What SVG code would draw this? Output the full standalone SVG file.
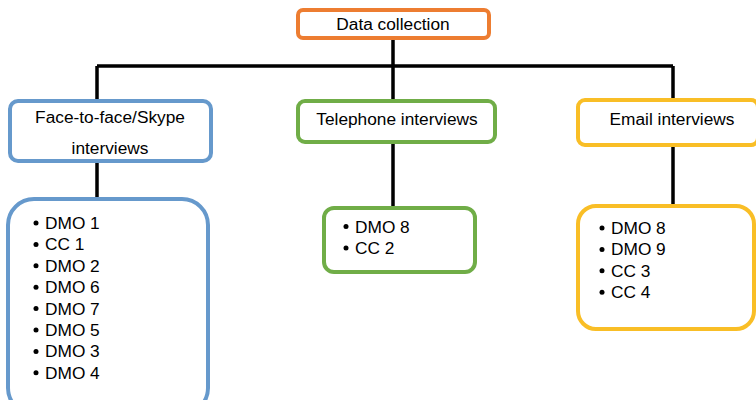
<svg xmlns="http://www.w3.org/2000/svg" width="756" height="400" viewBox="0 0 756 400">
<style>
text{font-family:"Liberation Sans",Arial,sans-serif;font-size:17.3px;fill:#000}
.c{text-anchor:middle}
.box{fill:#fff;stroke-width:4}
.line{stroke:#000;stroke-width:3.5;fill:none}
.o{stroke:#ED7D31}.b{stroke:#6699CC}.g{stroke:#70AD47}.y{stroke:#F9BE26}
</style>
<rect width="756" height="400" fill="#fff"/>
<g id="connectors">
<path class="line" d="M393 38V66M97 66H673M97 66V100M393 66V101M673 66V100"/>
<path class="line" d="M97 162V199M393 142V208M673 145V205"/>
</g>
<g id="data-collection">
<rect class="box o" x="298" y="10" width="191" height="28" rx="5"/>
<text class="c" x="393" y="30">Data collection</text>
</g>
<g id="face-to-face">
<rect class="box b" x="10" y="101" width="201" height="60" rx="8"/>
<text class="c" x="110" y="123">Face-to-face/Skype</text>
<text class="c" x="110" y="154">interviews</text>
</g>
<g id="telephone">
<rect class="box g" x="298" y="101" width="197" height="41" rx="7"/>
<text class="c" x="397" y="124.5">Telephone interviews</text>
</g>
<g id="email">
<rect class="box y" x="578" y="100" width="180" height="45" rx="7"/>
<text class="c" x="672" y="125">Email interviews</text>
</g>
<g id="face-list">
<rect class="box b" x="8" y="199" width="200" height="215" rx="26"/>
<g fill="#000">
<circle cx="36" cy="223" r="2.5"/><circle cx="36" cy="244.4" r="2.5"/><circle cx="36" cy="265.8" r="2.5"/><circle cx="36" cy="287.2" r="2.5"/>
<circle cx="36" cy="308.6" r="2.5"/><circle cx="36" cy="330" r="2.5"/><circle cx="36" cy="351.4" r="2.5"/><circle cx="36" cy="372.8" r="2.5"/>
</g>
<text x="45" y="229">DMO 1</text>
<text x="45" y="250.4">CC 1</text>
<text x="45" y="271.8">DMO 2</text>
<text x="45" y="293.2">DMO 6</text>
<text x="45" y="314.6">DMO 7</text>
<text x="45" y="336">DMO 5</text>
<text x="45" y="357.4">DMO 3</text>
<text x="45" y="378.8">DMO 4</text>
</g>
<g id="telephone-list">
<rect class="box g" x="324" y="208" width="151" height="64" rx="10"/>
<g fill="#000"><circle cx="346" cy="226.5" r="2.5"/><circle cx="346" cy="247.9" r="2.5"/></g>
<text x="355" y="232.5">DMO 8</text>
<text x="355" y="253.9">CC 2</text>
</g>
<g id="email-list">
<rect class="box y" x="578" y="206" width="176" height="123" rx="18"/>
<g fill="#000"><circle cx="602" cy="228" r="2.5"/><circle cx="602" cy="249.4" r="2.5"/><circle cx="602" cy="270.8" r="2.5"/><circle cx="602" cy="292.2" r="2.5"/></g>
<text x="611" y="234">DMO 8</text>
<text x="611" y="255.4">DMO 9</text>
<text x="611" y="276.8">CC 3</text>
<text x="611" y="298.2">CC 4</text>
</g>
</svg>
